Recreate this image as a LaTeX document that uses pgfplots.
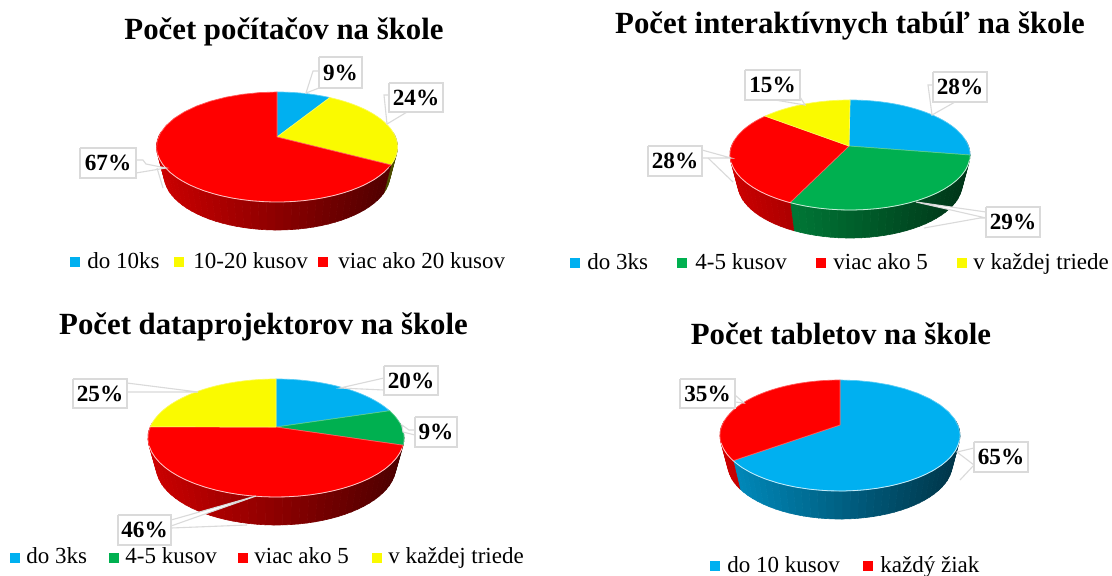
\documentclass[border=0pt]{standalone}
\usepackage{fontspec}
\setmainfont{Liberation Serif}
\usepackage{pgfplots}
\pgfplotsset{compat=1.18}
\definecolor{pblue}{HTML}{00B0F0}
\definecolor{pgreen}{HTML}{00B050}
\definecolor{pred}{HTML}{FF0000}
\definecolor{pyel}{HTML}{FAFA00}
\definecolor{boxg}{HTML}{DADADA}
\newcommand\setpie[7]{\def\cx{#1}\def\cy{#2}\def\rx{#3}\def\ry{#4}\def\apx{#5}\def\apy{#6}\def\rxb{#7}
  \pgfmathsetmacro\cyb{\cy+28}}
% top face of a slice between ellipse angles (clockwise from the top)
\newcommand\topslice[3]{%
  \gdef\pts{(\apx,\apy)}%
  \foreach \k in {0,...,30}{%
    \pgfmathsetmacro\tt{#1+(#2-#1)*\k/30}%
    \pgfmathsetmacro\xx{\cx+\rx*sin(\tt)}%
    \pgfmathsetmacro\yy{\cy-\ry*cos(\tt)}%
    \xdef\pts{\pts (\xx,\yy)}%
  }%
  \xdef\pts{\pts (\apx,\apy)}%
  \edef\temp{\noexpand\addplot[forget plot,fill=#3,draw=#3!65!white,line width=.35pt] coordinates {\pts};}\temp
}
% side wall, shaded from left to right in small quads
\newcommand\wall[3]{%
  \pgfmathtruncatemacro\nn{max(1,round((#2-#1)/4))}%
  \foreach \k in {1,...,\nn}{%
    \pgfmathsetmacro\ta{#1+(#2-#1)*(\k-1)/\nn}%
    \pgfmathsetmacro\tb{#1+(#2-#1)*\k/\nn}%
    \pgfmathsetmacro\xa{\cx+\rx*sin(\ta)}\pgfmathsetmacro\ya{\cy-\ry*cos(\ta)}%
    \pgfmathsetmacro\xb{\cx+\rx*sin(\tb)}\pgfmathsetmacro\yb{\cy-\ry*cos(\tb)}%
    \pgfmathsetmacro\xc{\cx+\rxb*sin(\tb)}\pgfmathsetmacro\yc{\cyb-\ry*cos(\tb)}%
    \pgfmathsetmacro\xd{\cx+\rxb*sin(\ta)}\pgfmathsetmacro\yd{\cyb-\ry*cos(\ta)}%
    \pgfmathsetmacro\pc{55-25*sin((\ta+\tb)/2)}%
    \edef\temp{\noexpand\addplot[forget plot,fill=#3!\pc!black,draw=#3!\pc!black,line width=.3pt] coordinates {(\xa,\ya)(\xb,\yb)(\xc,\yc)(\xd,\yd)(\xa,\ya)};}\temp
  }%
}
\newcommand\rim[2]{%
  \gdef\pts{}%
  \foreach \k in {0,...,30}{%
    \pgfmathsetmacro\tt{#1+(#2-#1)*\k/30}%
    \pgfmathsetmacro\xx{\cx+\rx*sin(\tt)}%
    \pgfmathsetmacro\yy{\cy-\ry*cos(\tt)}%
    \xdef\pts{\pts (\xx,\yy)}%
  }%
  \edef\temp{\noexpand\addplot[forget plot,draw=white,draw opacity=.65,line width=.4pt] coordinates {\pts};}\temp
}
\newcommand\lab[5]{%
  \addplot[forget plot,fill=white,draw=boxg,line width=.55pt] coordinates {(#1,#3)(#2,#3)(#2,#4)(#1,#4)(#1,#3)};
  \pgfmathsetmacro\lx{(#1+#2)/2}\pgfmathsetmacro\ly{(#3+#4)/2}%
  \edef\temp{\noexpand\node[font=\noexpand\fontsize{11.6pt}{13pt}\noexpand\bfseries\noexpand\selectfont,inner sep=0pt] at (axis cs:\lx,\ly) {#5\noexpand\%};}\temp
}
\newcommand\tail[1]{\addplot[forget plot,fill=white,draw=boxg,line width=.55pt] coordinates {#1};}
\newcommand\leg[4]{%
  \addplot[forget plot,only marks,mark=square*,mark size=2.1pt,mark options={#4,draw=#4}] coordinates {(#1,#2)};
}
\newcommand\legt[3]{\node[font=\fontsize{11.5pt}{13pt}\selectfont,anchor=base west,inner sep=0pt] at (axis cs:#1,#2) {#3};}
\newcommand\ttl[3]{\node[font=\fontsize{15.4pt}{17pt}\bfseries\selectfont,anchor=base,inner sep=0pt] at (axis cs:#1,#2) {#3};}
\begin{document}
\begin{tikzpicture}
\useasboundingbox (0,0) rectangle (556pt,287.5pt);
\fill[white] (0,0) rectangle (556pt,287.5pt);
\begin{axis}[anchor=south west,at={(0,0)},scale only axis,width=556pt,height=287.5pt,
  xmin=0,xmax=1112,ymin=0,ymax=575,y dir=reverse,hide axis,clip=false]
% ---------- chart 1
\setpie{277}{147}{120.5}{55}{277}{137}{113}
\wall{75}{109}{pyel}
\wall{109}{285}{pred}
\topslice{0}{26}{pblue}
\topslice{26}{109}{pyel}
\topslice{109}{360}{pred}
\rim{112}{262}
\ttl{284}{39}{Počet počítačov na škole}
\tail{(319,71)(313,71)(306,93)(319,88)}
\lab{319}{362}{57}{88}{9}
\tail{(389,95)(384,95)(387,124)(407,112)}
\lab{389}{443}{83}{112}{24}
\tail{(136,160)(143,160)(146,164)(166,168)(136,173)}
\tail{(157,168)(163,188)}
\lab{80}{136}{148}{178}{67}
\leg{75}{262}{}{pblue}\legt{87}{268}{do 10ks}
\leg{179}{262}{}{pyel}\legt{193}{268}{10-20 kusov}
\leg{323}{262}{}{pred}\legt{338}{268}{viac ako 20 kusov}
% ---------- chart 2
\setpie{850}{155}{120}{55}{849}{146}{112.5}
\wall{75}{90}{pblue}
\wall{90}{210}{pgreen}
\wall{210}{285}{pred}
\topslice{0}{90}{pblue}
\topslice{90}{210}{pgreen}
\topslice{210}{315}{pred}
\topslice{315}{360}{pyel}
\rim{95}{262}
\ttl{850}{33}{Počet interaktívnych tabúľ na škole}
\tail{(933,85)(928,85)(932,115)(955,102)}
\lab{933}{987}{72}{102}{28}
\tail{(775,100)(805,105)(800,97)}
\lab{745}{800}{70}{100}{15}
\tail{(702,150)(731,158)(708,158)(702,158)}
\tail{(708,158)(733,182)}
\lab{648}{702}{146}{176}{28}
\tail{(986,212)(916,202)(986,218)(980,218)(924,228)}
\lab{986}{1040}{207}{237}{29}
\leg{575}{263}{}{pblue}\legt{587}{269.5}{do 3ks}
\leg{682}{263}{}{pgreen}\legt{695}{269.5}{4-5 kusov}
\leg{821}{263}{}{pred}\legt{833}{269.5}{viac ako 5}
\leg{962}{263}{}{pyel}\legt{973}{269.5}{v každej triede}
% ---------- chart 3
\setpie{276}{438}{128}{59}{276}{427}{120}
\wall{75}{97}{pgreen}
\wall{97}{285}{pred}
\topslice{0}{62.5}{pblue}
\topslice{62.5}{97}{pgreen}
\topslice{97}{281}{pred}
\topslice{281}{360}{pyel}
\rim{100}{262}
\ttl{263.5}{334}{Počet dataprojektorov na škole}
\tail{(384,378)(340,388)(384,390)}
\lab{384}{438}{366}{395}{20}
\tail{(415,430)(409,430)(402,425)(403,432)(415,435)}
\lab{415}{457}{417}{447}{9}
\tail{(127,383)(198,392)(127,392)}
\lab{73}{127}{379}{408}{25}
\tail{(171,520)(256,496)(171,526)}
\addplot[forget plot,draw=boxg,line width=.55pt] coordinates {(171,528)(247,525)};
\lab{118}{171}{515}{545}{46}
\leg{15}{558}{}{pblue}\legt{26}{563.5}{do 3ks}
\leg{114}{558}{}{pgreen}\legt{125}{563.5}{4-5 kusov}
\leg{243}{558}{}{pred}\legt{254}{563.5}{viac ako 5}
\leg{377}{558}{}{pyel}\legt{388}{563.5}{v každej triede}
% ---------- chart 4
\setpie{840}{435.5}{120}{55.5}{840}{425}{112.5}
\wall{75}{243}{pblue}
\wall{243}{285}{pred}
\topslice{0}{243}{pblue}
\topslice{243}{360}{pred}
\rim{95}{262}
\ttl{841}{344}{Počet tabletov na škole}
\tail{(735,395)(744,403)(735,402)}
\lab{680}{735}{379}{408}{35}
\tail{(974,448)(957,452)(974,465)(960,480)}
\lab{974}{1028}{442}{472}{65}
\leg{715}{566}{}{pblue}\legt{727}{572.5}{do 10 kusov}
\leg{868}{566}{}{pred}\legt{880}{572.5}{každý žiak}
\end{axis}
\end{tikzpicture}
\end{document}
